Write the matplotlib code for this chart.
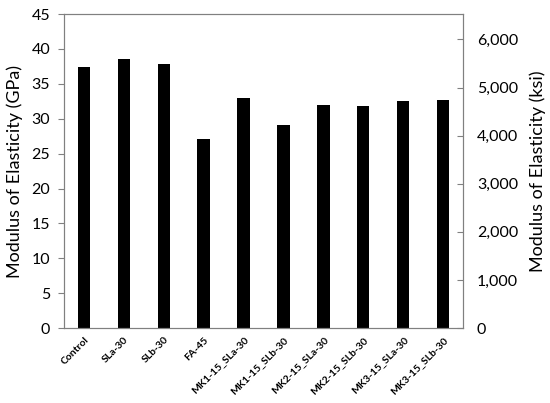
import matplotlib.pyplot as plt
from matplotlib.ticker import FuncFormatter

plt.rcParams['font.family'] = ['Lato', 'DejaVu Sans']

mixes = ['Control', 'SLa-30', 'SLb-30', 'FA-45', 'MK1-15_SLa-30',
         'MK1-15_SLb-30', 'MK2-15_SLa-30', 'MK2-15_SLb-30',
         'MK3-15_SLa-30', 'MK3-15_SLb-30']
modulus_gpa = [37.4, 38.5, 37.9, 27.1, 33.0, 29.1, 31.9, 31.8, 32.6, 32.7]
gpa_to_ksi = 145.038

fig = plt.figure(figsize=(5.5, 4.03), dpi=100)
ax = fig.add_axes([0.1164, 0.186, 0.7255, 0.779])
x = range(len(mixes))
ax.bar(x, modulus_gpa, width=0.31, color='black')
ax.set_xlim(-0.5, len(mixes) - 0.5)
ax.set_ylim(0, 45)
ax.set_yticks(range(0, 46, 5))
ax.set_xticks(list(x))
ax.set_xticklabels(mixes, rotation=45, ha='right', rotation_mode='anchor',
                   fontsize=7.5, fontweight='bold')
ax.tick_params(axis='x', length=0, pad=5)
ax.tick_params(axis='y', labelsize=11.5, color='#808080', length=4, pad=6)
ax.set_ylabel('Modulus of Elasticity (GPa)', fontsize=13, labelpad=6)
for s in ax.spines.values():
    s.set_color('#808080')

ax2 = ax.twinx()
ax2.set_ylim(0, 45 * gpa_to_ksi)
ax2.set_yticks(range(0, 6001, 1000))
ax2.yaxis.set_major_formatter(FuncFormatter(lambda v, p: f'{int(v):,}'))
ax2.tick_params(axis='y', direction='in', labelsize=11.5, color='#808080',
                length=4, pad=10)
ax2.set_ylabel('Modulus of Elasticity (ksi)', fontsize=13, labelpad=8)
for s in ax2.spines.values():
    s.set_color('#808080')

fig.savefig('out.png', dpi=100)
